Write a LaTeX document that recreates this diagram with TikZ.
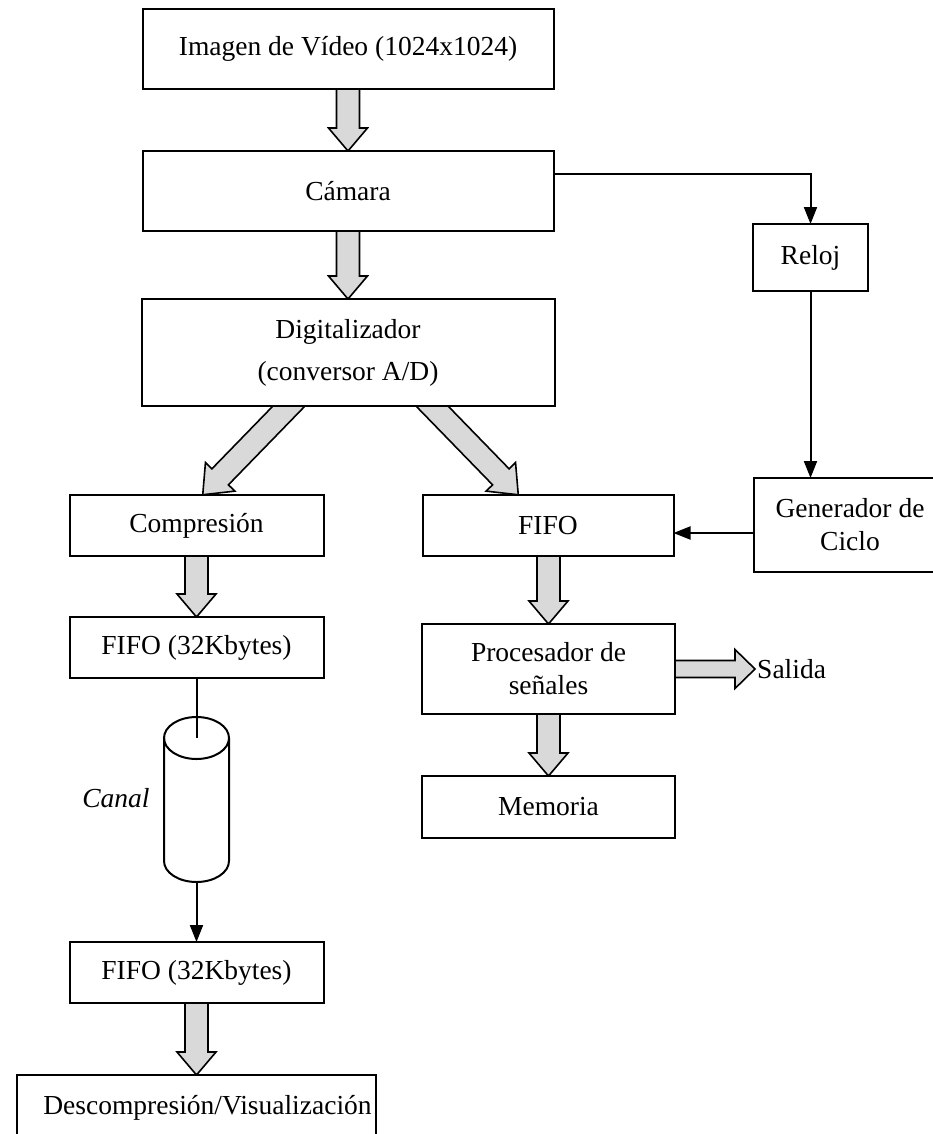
\documentclass[tikz,border=0pt]{standalone}
\usepackage{fontspec}
\setmainfont{Liberation Serif}
\usetikzlibrary{calc,arrows.meta,backgrounds}
\newcommand\fatarrow[5]{%
  \draw[fatstyle] let \p1=($(#1)!-12pt!(#2)$), \p2=(#2),
    \n1={atan2(\y2-\y1,\x2-\x1)}, \n2={veclen(\x2-\x1,\y2-\y1)} in
    [shift={(\p1)}, rotate=\n1]
    (0pt,-#3pt) -- ({(\n2-#5)*1pt},-#3pt) -- ({(\n2-#5)*1pt},-#4pt)
    -- ({\n2*1pt},0pt) -- ({(\n2-#5)*1pt},#4pt) -- ({(\n2-#5)*1pt},#3pt)
    -- (0pt,#3pt) -- cycle;}
\begin{document}
\begin{tikzpicture}[x=1pt,y=-1pt,
  box/.style={draw, line width=2pt, fill=white, inner sep=0pt, outer sep=0pt,
    align=center, font=\fontsize{27.5}{33}\selectfont},
  lbl/.style={inner sep=2pt, font=\fontsize{27.5}{33}\selectfont},
  thinarrow/.style={line width=2pt, -{Triangle[length=17pt,width=13pt]}},
  thinline/.style={line width=2pt},
  fatstyle/.style={draw, line width=1.6pt, fill=gray!30, line join=miter}]
\useasboundingbox (0,0) rectangle (932,1134);

% boxes
\node[box, minimum width=411pt, minimum height=80pt] (img) at (348,49) {Imagen de Vídeo (1024x1024)};
\node[box, minimum width=411pt, minimum height=80pt] (cam) at (348,191) {Cámara};
\node[box, minimum width=413pt, minimum height=107pt, font=\fontsize{27.5}{42}\selectfont] (dig) at (348,352.5) {Digitalizador\\(conversor A/D)};
\node[box, minimum width=115pt, minimum height=67pt] (reloj) at (810.5,257.5) {Reloj};
\node[box, minimum width=254pt, minimum height=61pt] (comp) at (196.5,525.5) {Compresión};
\node[box, minimum width=251pt, minimum height=61pt] (fifo) at (548,525.5) {FIFO};
\node[box, minimum width=192pt, minimum height=94pt] (gen) at (850,525) {Generador de\\Ciclo};
\node[box, minimum width=254pt, minimum height=61pt] (fifo1) at (196.5,647.5) {FIFO (32Kbytes)};
\node[box, minimum width=253pt, minimum height=90pt] (proc) at (548.5,669) {Procesador de\\señales};
\node[box, minimum width=253pt, minimum height=62pt] (mem) at (548.5,807) {Memoria};
\node[box, minimum width=254pt, minimum height=61pt] (fifo2) at (196.5,972.5) {FIFO (32Kbytes)};
\node[box, minimum width=359pt, minimum height=66pt] (desc) at (196.5,1108) {\hspace*{22pt}Descompresión/Visualización};

% labels
\node[lbl, anchor=west] (salida) at (755,669) {Salida};
\node[lbl, font=\fontsize{27.5}{33}\selectfont\itshape] (canal) at (116,798) {Canal};

% cylinder (channel)
\coordinate (cyltop) at (196.5,738);
\coordinate (cylbot) at (196.5,882);
\draw[line width=2pt, fill=white] (164,738) -- (164,861)
  arc[start angle=180, end angle=360, x radius=32.5pt, y radius=21pt] -- (229,738);
\draw[line width=2pt] (cyltop) ellipse [x radius=32.5pt, y radius=21pt];

% thin connectors
\draw[thinarrow] ([yshift=17pt]cam.east) -| (reloj.north);
\draw[thinarrow] (reloj.south) -- (reloj.south |- gen.north);
\coordinate (g1) at ([yshift=-8pt]gen.west);
\draw[thinarrow] (g1) -- (g1 -| fifo.east);
\draw[thinline] (fifo1.south) -- (cyltop);
\draw[thinarrow] (cylbot) -- (fifo2.north);

% fat arrows
\coordinate (dL) at ([xshift=-59pt]dig.south);
\coordinate (cT) at ([xshift=6pt]comp.north);
\coordinate (dR) at ([xshift=84pt]dig.south);
\coordinate (fT) at ([xshift=-29.5pt]fifo.north);
\coordinate (fB) at ([xshift=0.5pt]fifo.south);
\begin{pgfonlayer}{background}
\fatarrow{img.south}{cam.north}{11.5}{19.5}{23}
\fatarrow{cam.south}{dig.north}{11.5}{19.5}{23}
\fatarrow{dL}{cT}{11.5}{20.5}{25}
\fatarrow{dR}{fT}{11.5}{20.5}{25}
\fatarrow{comp.south}{fifo1.north}{11.5}{19.5}{23}
\fatarrow{fB}{proc.north}{11.5}{19.5}{23}
\fatarrow{proc.south}{mem.north}{11.5}{19.5}{23}
\fatarrow{proc.east}{salida.west}{8.5}{19.5}{20}
\fatarrow{fifo2.south}{desc.north}{11.5}{19.5}{23}
\end{pgfonlayer}
\end{tikzpicture}
\end{document}
